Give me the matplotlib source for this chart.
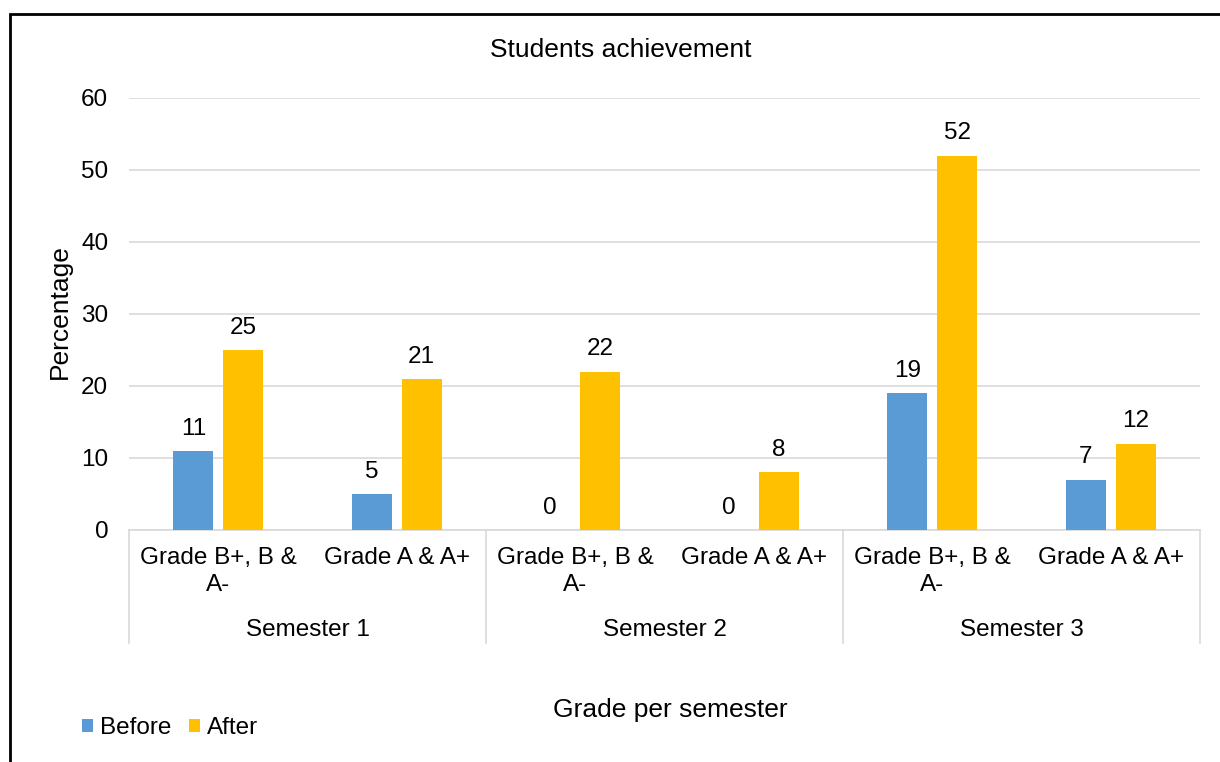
import matplotlib.pyplot as plt
import matplotlib.transforms as mtransforms
from matplotlib.patches import Rectangle

plt.rcParams['font.family'] = ['Liberation Sans', 'DejaVu Sans']

GRADES = ["Grade B+, B &\nA-", "Grade A & A+"] * 3
SEMESTERS = ["Semester 1", "Semester 2", "Semester 3"]
BEFORE = [11, 5, 0, 0, 19, 7]
AFTER = [25, 21, 22, 8, 52, 12]
YTICKS = [0, 10, 20, 30, 40, 50, 60]

BLUE = "#5B9BD5"
GOLD = "#FFC000"
GRID = "#D9D9D9"
W, H = 1220, 762
FS = 17.5
FS_T = 19

fig = plt.figure(figsize=(12.2, 7.62), dpi=100)
ax = fig.add_axes([129 / W, 1 - 530 / H, (1200 - 129) / W, (530 - 98) / H])

x = list(range(len(GRADES)))
bw = 0.225
off = 0.14
xb = [i - off for i in x]
xa = [i + off for i in x]
bars_b = ax.bar(xb, BEFORE, bw, color=BLUE, label="Before", zorder=3)
bars_a = ax.bar(xa, AFTER, bw, color=GOLD, label="After", zorder=3)

for bars, vals in ((bars_b, BEFORE), (bars_a, AFTER)):
    for b, v in zip(bars, vals):
        ax.annotate(str(v), (b.get_x() + b.get_width() / 2, v),
                    xytext=(0, 16), textcoords="offset points",
                    ha="center", va="center", fontsize=FS)

ax.set_xlim(-0.5, len(GRADES) - 0.5)
ax.set_ylim(0, 60)
ax.set_yticks(YTICKS)
ax.yaxis.grid(True, color=GRID, lw=1.2, zorder=0)
ax.set_axisbelow(True)
ax.set_xticks([])
ax.tick_params(axis="y", length=0, pad=15, labelsize=FS)
for s in ("top", "right", "left"):
    ax.spines[s].set_visible(False)
ax.spines["bottom"].set_color(GRID)
ax.spines["bottom"].set_linewidth(1.2)

# multi-level category axis
trans = mtransforms.blended_transform_factory(ax.transData, fig.transFigure)
for i, g in enumerate(GRADES):
    fig.text(i, 1 - 547 / H, g, transform=trans, ha="center", va="top",
             fontsize=FS, multialignment="center", linespacing=1.28)
for k, s in enumerate(SEMESTERS):
    fig.text(2 * k + 0.5, 1 - 630 / H, s, transform=trans, ha="center",
             va="center", fontsize=FS)
for sep in [-0.5, 1.5, 3.5, 5.5]:
    ax.plot([sep, sep], [1 - 530 / H, 1 - 643 / H], transform=trans,
            color=GRID, lw=1.2, clip_on=False)

fig.text(621 / W, 1 - 50 / H, "Students achievement", ha="center",
         va="center", fontsize=FS_T)
fig.text(60 / W, 1 - 312 / H, "Percentage", rotation=90, ha="center",
         va="center", fontsize=FS_T)
fig.text(670 / W, 1 - 710 / H, "Grade per semester", ha="center",
         va="center", fontsize=FS_T)

fig.legend(handles=[bars_b, bars_a], labels=["Before", "After"],
           loc="center left", bbox_to_anchor=(82 / W, 1 - 728 / H),
           ncol=2, frameon=False, fontsize=FS, handlelength=0.45,
           handleheight=0.45, handletextpad=0.3, columnspacing=0.7,
           borderaxespad=0, borderpad=0)

fig.patches.append(Rectangle((10 / W, -0.2), 1.5, 1.2 - 14 / H,
                             fill=False, ec="black", lw=2,
                             transform=fig.transFigure, figure=fig))

fig.savefig("out.png", dpi=100)
